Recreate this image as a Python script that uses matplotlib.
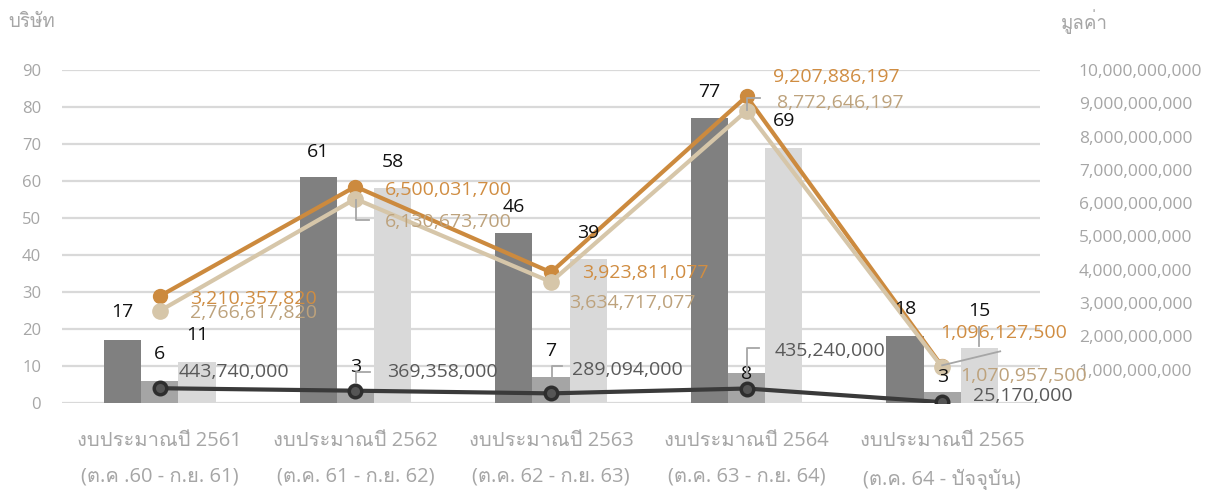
import matplotlib
matplotlib.use("Agg")
import matplotlib.pyplot as plt
from matplotlib import font_manager
from matplotlib.lines import Line2D
from matplotlib.transforms import IdentityTransform
import numpy as np

# ---------------- data ----------------
categories = ["งบประมาณปี 2561\n(ต.ค .60 - ก.ย. 61)",
              "งบประมาณปี 2562\n(ต.ค. 61 - ก.ย. 62)",
              "งบประมาณปี 2563\n(ต.ค. 62 - ก.ย. 63)",
              "งบประมาณปี 2564\n(ต.ค. 63 - ก.ย. 64)",
              "งบประมาณปี 2565\n(ต.ค. 64 - ปัจจุบัน)"]
bars_dark = [17, 61, 46, 77, 18]
bars_mid = [6, 3, 7, 8, 3]
bars_light = [11, 58, 39, 69, 15]
value_orange = [3210357820, 6500031700, 3923811077, 9207886197, 1096127500]
value_beige = [2766617820, 6130673700, 3634717077, 8772646197, 1070957500]
value_dark = [443740000, 369358000, 289094000, 435240000, 25170000]
left_ticks = list(range(0, 100, 10))
right_ticks = [i * 1_000_000_000 for i in range(11)]

# ---------------- fonts ----------------
thai_family = None
try:
    from fontTools.ttLib import TTFont
    preferred = []
    others = []
    for f in font_manager.fontManager.ttflist:
        try:
            tt = TTFont(f.fname, fontNumber=0, lazy=True)
            cmap = tt.getBestCmap()
            if cmap and ord('บ') in cmap and ord('ั') in cmap:
                if 'Thai' in f.name or 'Loma' in f.name or 'Garuda' in f.name:
                    preferred.append(f.name)
                else:
                    others.append(f.name)
        except Exception:
            pass
    cands = preferred + others
    if cands:
        thai_family = cands[0]
except Exception:
    pass

fams = ['Open Sans']
if thai_family and thai_family not in fams:
    fams.append(thai_family)
fams.append('DejaVu Sans')
plt.rcParams['font.family'] = fams

# ---------------- figure ----------------
fig = plt.figure(figsize=(12.07, 4.90), dpi=100)
ax = fig.add_axes([62 / 1207, 1 - 403 / 490, (1040 - 62) / 1207, (403 - 70) / 490])
ax2 = ax.twinx()

x = np.arange(len(categories))
w = 0.19
c_dark, c_mid, c_light = '#808080', '#a5a5a5', '#d9d9d9'
ax.bar(x - w, bars_dark, w, color=c_dark, zorder=2)
ax.bar(x, bars_mid, w, color=c_mid, zorder=2)
ax.bar(x + w, bars_light, w, color=c_light, zorder=2)

ax.set_ylim(0, 90)
ax.set_xlim(-0.5, 4.5)
ax.set_yticks(left_ticks)
ax.grid(axis='y', color='#d9d9d9', linewidth=1.6, zorder=0)
ax.set_axisbelow(True)
for s in ax.spines.values():
    s.set_visible(False)
for s in ax2.spines.values():
    s.set_visible(False)
ax.tick_params(axis='both', length=0, colors='#a6a6a6', labelsize=12)
ax.tick_params(axis='y', pad=15)
ax.set_xticks(x)
ax.set_xticklabels(categories, fontsize=14.5, color='#a6a6a6', linespacing=2.05)
ax.tick_params(axis='x', pad=20)

ax2.set_ylim(0, 10_000_000_000)
ax2.set_yticks(right_ticks)
ax2.set_yticklabels([""] + [f"{v:,}" for v in right_ticks[1:]])
ax2.tick_params(axis='y', length=0, colors='#a6a6a6', labelsize=12.5, pad=28)

c_or, c_be, c_dk = '#cc8a3e', '#d6c6a9', '#3a3a3a'
ax2.plot(x, value_orange, color=c_or, lw=3, marker='o', ms=10, zorder=3)
ax2.plot(x, value_beige, color=c_be, lw=3, marker='o', ms=11, zorder=4)
ax2.plot(x, value_dark, color=c_dk, lw=3, marker='o', ms=9, mfc='#555555',
         mec='#2e2e2e', mew=2.5, zorder=5)

# bar labels (pixel offsets relative to bar top), drawn above the lines
bar_lbl_offsets = {
    'dark': [(0, 28), (0, 25), (0, 26), (0, 26), (0, 27)],
    'mid': [(0, 27), (0, 25), (0, 26), (0, -1), (0, 15)],
    'light': [(0, 27), (0, 26), (0, 26), (0, 27), (0, 36)],
}
for series, vals, off in ((x - w, bars_dark, bar_lbl_offsets['dark']),
                          (x, bars_mid, bar_lbl_offsets['mid']),
                          (x + w, bars_light, bar_lbl_offsets['light'])):
    for xi, v, o in zip(series, vals, off):
        ax2.annotate(f"{v}", (xi, v), xycoords=ax.transData, xytext=o,
                     textcoords='offset pixels', ha='center', va='center',
                     fontsize=14, color='#111111', zorder=8)

# line labels (left edge offset in pixels, vertical offset)
lbl_or = [(30, -3), (29, -3), (31, -1), (26, 19), (-2, 33)]
lbl_be = [(30, -2), (29, -23), (18, -21), (30, 8), (18, -9)]
lbl_dk = [(19, 16), (32, 19), (21, 23), (28, 38), (31, 6)]
for vals, offs, col in ((value_orange, lbl_or, '#d08d42'),
                        (value_beige, lbl_be, '#bda27c'),
                        (value_dark, lbl_dk, '#595959')):
    for xi, v, o in zip(x, vals, offs):
        ax2.annotate(f"{v:,}", (xi, v), xytext=o, textcoords='offset pixels',
                     ha='left', va='center', fontsize=14, color=col, zorder=9)

# leader lines (pixel offsets from the data point, y up)
leaders = [
    (value_beige, 1, [(1, -1), (1, -21), (14, -21)]),
    (value_dark, 1, [(1, 9), (1, 19), (15, 19)]),
    (value_dark, 2, [(1, 16), (1, 27), (11, 27)]),
    (value_beige, 3, [(0, 1), (0, 13), (13, 13)]),
    (value_dark, 3, [(0, 16), (0, 41), (12, 41)]),
    (value_orange, 4, [(37, 20), (37, 39)]),
    (value_beige, 4, [(0, 2), (58, 16)]),
]
for vals, i, pts in leaders:
    px, py = ax2.transData.transform((x[i], vals[i]))
    xs = [px + dx for dx, dy in pts]
    ys = [py + dy for dx, dy in pts]
    fig.add_artist(Line2D(xs, ys, transform=IdentityTransform(),
                          color='#a6a6a6', lw=1.3, zorder=7))

# axis titles
fig.text(8 / 1207, 1 - 22 / 490, "บริษัท", fontsize=13.5, color='#a6a6a6',
         ha='left', va='center')
fig.text(1061 / 1207, 1 - 22 / 490, "มูลค่า", fontsize=13.5, color='#a6a6a6',
         ha='left', va='center')

fig.savefig("out.png", dpi=100)
